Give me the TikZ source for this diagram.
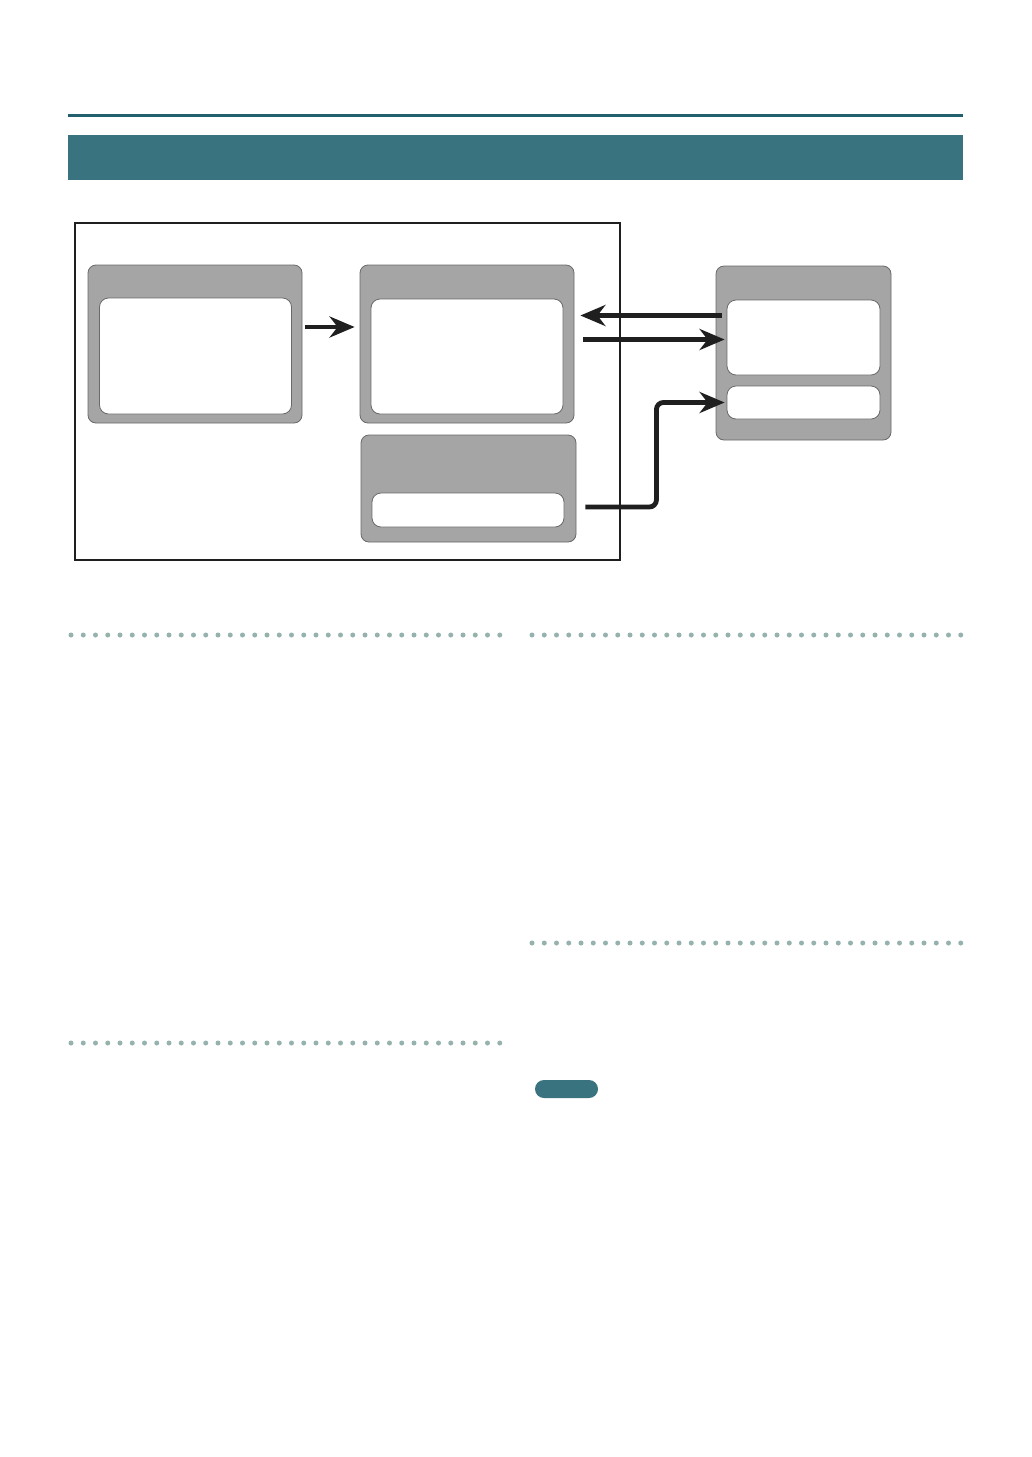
\documentclass[tikz,border=0pt]{standalone}
\usetikzlibrary{positioning, calc, arrows.meta}
\definecolor{head-teal}{RGB}{56,115,127}
\definecolor{rule-teal}{RGB}{35,96,109}
\definecolor{dot-teal}{RGB}{150,178,174}
\definecolor{panel-gray}{RGB}{166,165,165}
\definecolor{edge-gray}{RGB}{105,105,105}

\begin{document}
\begin{tikzpicture}[x=1pt, y=-1pt,
    panel/.style={draw=edge-gray, line width=0.8pt, fill=panel-gray, rounded corners=8pt, inner sep=0pt},
    slot/.style={draw=edge-gray, line width=0.8pt, fill=white, rounded corners=9pt, inner sep=0pt},
    flow/.style={line width=4.8pt, draw=black!88, -{Stealth[length=25pt, width=21pt, inset=8pt]}},
    dotline/.style={dot-teal, line width=5pt, line cap=round, dash pattern=on 0pt off 12.25pt}]
    % page
    \useasboundingbox (0,0) rectangle (1032,1457);
    \fill[white] (0,0) rectangle (1032,1457);

    % title rule and heading bar
    \draw[rule-teal, line width=3pt] (68,115.5) -- (963,115.5);
    \fill[head-teal] (68,135) rectangle (963,180);

    % frame round the unit
    \draw[black!88, line width=1.8pt] (75,223) rectangle (620,560);

    % left panel
    \node[panel, minimum width=214, minimum height=158] (aBox) at (195,344) {};
    \node[slot, minimum width=192, minimum height=116] (aIn) at (195.5,356) {};

    % middle panel
    \node[panel, minimum width=214, minimum height=158] (bBox) at (467,344) {};
    \node[slot, minimum width=192, minimum height=115] (bIn) at (467,356.5) {};

    % lower middle panel
    \node[panel, minimum width=215, minimum height=107] (cBox) at (468.5,488.5) {};
    \node[slot, minimum width=192, minimum height=34] (cIn) at (468,510) {};

    % right panel
    \node[panel, minimum width=175, minimum height=174] (dBox) at (803.5,353) {};
    \node[slot, minimum width=153, minimum height=75] (dIn1) at (803.5,337.5) {};
    \node[slot, minimum width=153, minimum height=33] (dIn2) at (803.5,402.5) {};

    % connectors
    \draw[flow] ([xshift=3pt,yshift=17pt]aBox.east) -- ([xshift=-5pt,yshift=17pt]bBox.west);
    \draw[flow] ([xshift=-5pt,yshift=22pt]dIn1.west) -- ([xshift=6pt,yshift=28.5pt]bBox.east);
    \draw[flow] ([xshift=9pt,yshift=4.5pt]bBox.east) -- ([xshift=-2pt,yshift=-2pt]dIn1.west);
    \draw[flow, rounded corners=7pt] ([xshift=21pt,yshift=3pt]cIn.east) -- ++(71,0) |- ([xshift=-2pt]dIn2.west);

    % dotted section rules
    \draw[dotline] (71,635) -- (500.5,635);
    \draw[dotline] (532,635) -- (962,635);
    \draw[dotline] (532,943) -- (962,943);
    \draw[dotline] (71,1043) -- (500.5,1043);

    % note tag
    \node[fill=head-teal, rounded corners=9pt, minimum width=63, minimum height=18, inner sep=0pt] (noteTag) at (566.5,1089) {};
\end{tikzpicture}
\end{document}
